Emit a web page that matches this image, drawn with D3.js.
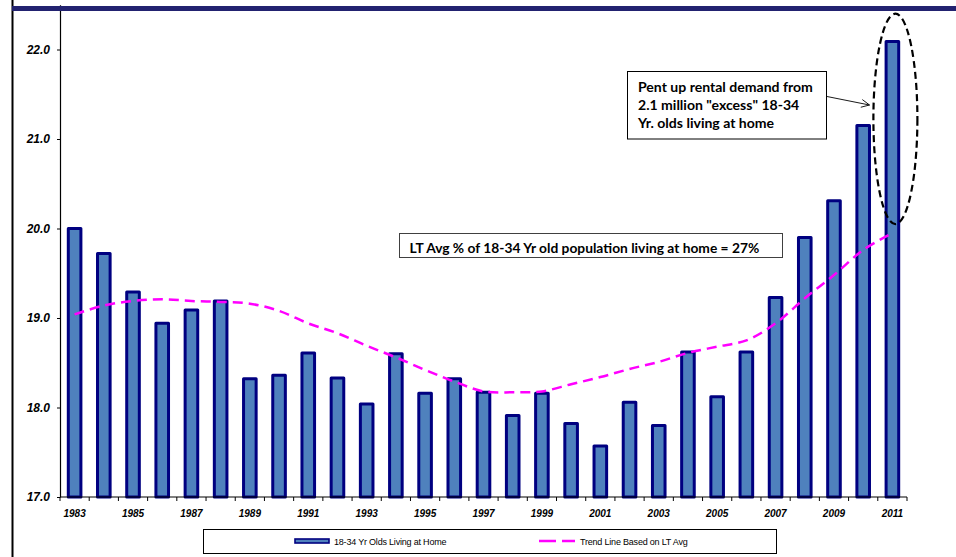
<!DOCTYPE html>
<html><head><meta charset="utf-8">
<script src="https://cdn.jsdelivr.net/npm/d3@7"></script>
<style>body{margin:0;background:#fff;} svg{display:block;}</style>
</head><body><svg id="c" width="956" height="557"></svg>
<script>
// ---- data ----
const years = [1983,1984,1985,1986,1987,1988,1989,1990,1991,1992,1993,1994,1995,1996,1997,1998,1999,2000,2001,2002,2003,2004,2005,2006,2007,2008,2009,2010,2011];
const livingAtHome = [20.00,19.72,19.29,18.94,19.09,19.19,18.32,18.36,18.61,18.33,18.04,18.60,18.16,18.32,18.17,17.91,18.16,17.82,17.57,18.06,17.80,18.62,18.12,18.62,19.23,19.90,20.31,21.15,22.09];
const trendLine = [19.04,19.14,19.19,19.21,19.19,19.18,19.16,19.08,18.94,18.83,18.69,18.56,18.42,18.29,18.18,18.17,18.18,18.26,18.34,18.43,18.51,18.61,18.68,18.75,18.94,19.22,19.48,19.76,19.95];
const yTicks = [17,18,19,20,21,22];
const xLabelYears = years.filter((d,i)=>i%2===0);
const legendLabels = ["18-34 Yr Olds Living at Home","Trend Line Based on LT Avg"];
const calloutLines = ["Pent up rental demand from","2.1 million \"excess\" 18-34","Yr. olds living at home"];
const avgNote = "LT Avg % of 18-34 Yr old population living at home = 27%";
const highlightYear = 2011;
const highlightRange = [20.05, 22.40];

// ---- styles ----
const barFill = "#4F81BD", barStroke = "#000080", trendColor = "#FF00FF";
const axisFont = "'Liberation Sans', Arial, sans-serif";
const noteFont = "Lato, 'Open Sans', sans-serif";

const svg = d3.select("#c");
const x = d3.scaleBand(years, [60, 907]).paddingInner(0).paddingOuter(0);
const y = d3.scaleLinear([17, 22.5], [497, 4.75]);

// frame: left black rule and top navy band
svg.append("line").attr("x1",12.5).attr("x2",12.5).attr("y1",0).attr("y2",557)
  .attr("stroke","#000").attr("stroke-width",2);

// bars
const bw = 12.6;
svg.append("g").selectAll("rect").data(years).join("rect")
  .attr("x", d=>x(d)+x.bandwidth()/2-bw/2)
  .attr("width", bw)
  .attr("y", (d,i)=>y(livingAtHome[i]))
  .attr("height", (d,i)=>y(17)-y(livingAtHome[i]))
  .attr("fill", barFill).attr("stroke", barStroke).attr("stroke-width", 3)
  .attr("stroke-linejoin","round");

// trend line
const line = d3.line().x((d,i)=>x(years[i])+x.bandwidth()/2).y(d=>y(d)).curve(d3.curveCatmullRom.alpha(0.5));
svg.append("path").attr("d", line(trendLine)).attr("fill","none")
  .attr("stroke", trendColor).attr("stroke-width", 2.5).attr("stroke-dasharray","10,6");

// y axis
const yAxis = svg.append("g").attr("transform","translate(60,0)")
  .call(d3.axisLeft(y).tickValues(yTicks).tickFormat(d3.format(".1f")).tickSize(3).tickSizeOuter(0).tickPadding(7));
yAxis.select(".domain").attr("stroke","#000").attr("stroke-width",1.2);
yAxis.selectAll(".tick line").attr("stroke","#000");
yAxis.selectAll("text").attr("font-family",axisFont).attr("font-size",12)
  .attr("font-weight","bold").attr("font-style","italic").attr("fill","#000");

// x axis
const xAxisG = svg.append("g").attr("transform","translate(0,497)");
xAxisG.append("line").attr("x1",60).attr("x2",907).attr("stroke","#000").attr("stroke-width",1.2);
const bounds = years.map(d=>x(d)).concat([x(years[years.length-1])+x.bandwidth()]);
xAxisG.selectAll("line.tk").data(bounds).join("line").attr("class","tk")
  .attr("x1",d=>d).attr("x2",d=>d).attr("y1",0).attr("y2",4).attr("stroke","#000");
xAxisG.selectAll("text").data(xLabelYears).join("text")
  .attr("x", d=>x(d)+x.bandwidth()/2).attr("y", 19.5)
  .attr("text-anchor","middle").attr("font-family",axisFont).attr("font-size",10)
  .attr("font-weight","bold").attr("font-style","italic").text(d=>d);

// top navy band (over axis)
svg.append("rect").attr("x",12).attr("y",6).attr("width",944).attr("height",5).attr("fill","#222270");

// helper: fit text to width
function fitSize(texts, target, base){
  const w = texts.node().getComputedTextLength();
  const s = base*target/w;
  texts.attr("font-size", s);
  return s;
}

// callout box
svg.append("rect").attr("x",627.5).attr("y",71.5).attr("width",199).attr("height",67.5)
  .attr("fill","#fff").attr("stroke","#000").attr("stroke-width",1);
const cl = svg.append("g");
const clTexts = cl.selectAll("text").data(calloutLines).join("text")
  .attr("x",638).attr("y",(d,i)=>92+i*18)
  .attr("font-family",noteFont).attr("font-weight","bold").attr("font-size",13).attr("fill","#000")
  .text(d=>d);
fitSize(clTexts, 175, 13);

// arrow
const a0 = [827, 96.5], a1 = [869.5, 105];
svg.append("line").attr("x1",a0[0]).attr("y1",a0[1]).attr("x2",a1[0]).attr("y2",a1[1])
  .attr("stroke","#000").attr("stroke-width",0.9);
{
  const ang = Math.atan2(a1[1]-a0[1], a1[0]-a0[0]);
  const L = 9, spread = 0.45;
  const p1 = [a1[0]-L*Math.cos(ang-spread), a1[1]-L*Math.sin(ang-spread)];
  const p2 = [a1[0]-L*Math.cos(ang+spread), a1[1]-L*Math.sin(ang+spread)];
  svg.append("path").attr("d",`M${p1}L${a1}L${p2}`).attr("fill","none").attr("stroke","#000").attr("stroke-width",0.9);
}

// highlight ellipse
const cx = x(highlightYear)+x.bandwidth()/2+3;
svg.append("ellipse").attr("cx",cx).attr("cy",(y(highlightRange[0])+y(highlightRange[1]))/2)
  .attr("rx",22).attr("ry",(y(highlightRange[0])-y(highlightRange[1]))/2)
  .attr("fill","none").attr("stroke","#000").attr("stroke-width",2.2).attr("stroke-dasharray","7,4");

// avg note box
svg.append("rect").attr("x",399.5).attr("y",233.5).attr("width",383).attr("height",24)
  .attr("fill","#fff").attr("stroke","#404040").attr("stroke-width",1);
const an = svg.append("text").attr("x",409.5).attr("y",252.5)
  .attr("font-family",noteFont).attr("font-weight","bold").attr("font-size",13).attr("fill","#000")
  .text(avgNote);
fitSize(an, 350, 13);

// legend
svg.append("rect").attr("x",203.5).attr("y",529.5).attr("width",573).attr("height",24)
  .attr("fill","#fff").attr("stroke","#000").attr("stroke-width",1);
svg.append("rect").attr("x",295).attr("y",539).attr("width",34).attr("height",4)
  .attr("fill",barFill).attr("stroke",barStroke).attr("stroke-width",1.6);
svg.append("line").attr("x1",539).attr("x2",575).attr("y1",541).attr("y2",541)
  .attr("stroke",trendColor).attr("stroke-width",2.5).attr("stroke-dasharray","17,6");
svg.selectAll("text.lg").data(legendLabels).join("text").attr("class","lg")
  .attr("x",(d,i)=>i===0?334:580).attr("y",544.5)
  .attr("font-family",axisFont).attr("font-size",9).attr("fill","#000")
  .attr("letter-spacing",-0.2).text(d=>d);
</script>
</body></html>
